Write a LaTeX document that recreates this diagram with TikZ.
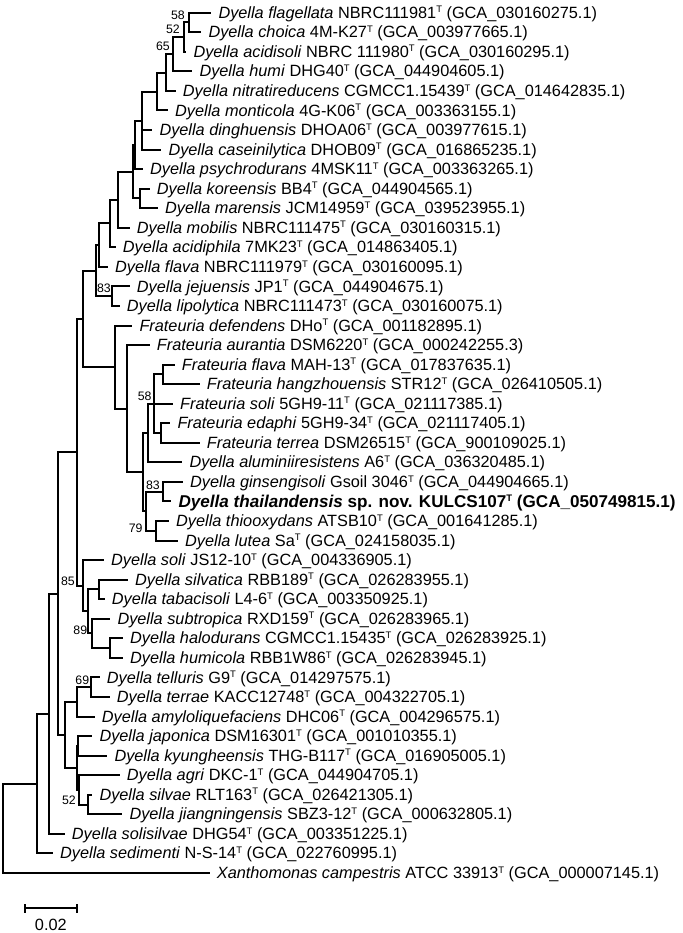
\documentclass[tikz,border=0pt]{standalone}
\usepackage{fontspec}
\setmainfont{Liberation Sans}
\newcommand{\tsup}{\raisebox{5.4pt}{\fontsize{9.5}{9.5}\selectfont T}}
\tikzset{
  br/.style={line width=2pt},
  lab/.style={anchor=base west, inner sep=0pt, font=\fontsize{16.3}{18}\selectfont},
  bs/.style={anchor=east, inner sep=0pt, font=\fontsize{12.3}{14}\selectfont},
}
\newcommand{\lf}[4]{\coordinate (l#1) at (#3-7,#2); \node[lab] (t#1) at (#3,#2+5.6) {#4};}
\begin{document}
\begin{tikzpicture}[x=1pt,y=-1pt]
\useasboundingbox (0,0) rectangle (682,933);
% leaves
\lf{1}{12.7}{218.3}{\textit{Dyella flagellata} NBRC111981\tsup{} (GCA\_030160275.1)}
\lf{2}{32.25}{208.3}{\textit{Dyella choica} 4M-K27\tsup{} (GCA\_003977665.1)}
\lf{3}{51.8}{193.3}{\textit{Dyella acidisoli} NBRC 111980\tsup{} (GCA\_030160295.1)}
\lf{4}{71.35}{199.3}{\textit{Dyella humi} DHG40\tsup{} (GCA\_044904605.1)}
\lf{5}{90.9}{182.7}{\textit{Dyella nitratireducens} CGMCC1.15439\tsup{} (GCA\_014642835.1)}
\lf{6}{110.45}{175}{\textit{Dyella monticola} 4G-K06\tsup{} (GCA\_003363155.1)}
\lf{7}{130}{159.3}{\textit{Dyella dinghuensis} DHOA06\tsup{} (GCA\_003977615.1)}
\lf{8}{149.55}{168.3}{\textit{Dyella caseinilytica} DHOB09\tsup{} (GCA\_016865235.1)}
\lf{9}{169.1}{150}{\textit{Dyella psychrodurans} 4MSK11\tsup{} (GCA\_003363265.1)}
\lf{10}{188.65}{156.7}{\textit{Dyella koreensis} BB4\tsup{} (GCA\_044904565.1)}
\lf{11}{208.2}{165}{\textit{Dyella marensis} JCM14959\tsup{} (GCA\_039523955.1)}
\lf{12}{227.75}{136.7}{\textit{Dyella mobilis} NBRC111475\tsup{} (GCA\_030160315.1)}
\lf{13}{247.3}{122.7}{\textit{Dyella acidiphila} 7MK23\tsup{} (GCA\_014863405.1)}
\lf{14}{266.85}{115}{\textit{Dyella flava} NBRC111979\tsup{} (GCA\_030160095.1)}
\lf{15}{286.4}{136.7}{\textit{Dyella jejuensis} JP1\tsup{} (GCA\_044904675.1)}
\lf{16}{305.95}{126.7}{\textit{Dyella lipolytica} NBRC111473\tsup{} (GCA\_030160075.1)}
\lf{17}{325.5}{139.3}{\textit{Frateuria defendens} DHo\tsup{} (GCA\_001182895.1)}
\lf{18}{345.05}{156.7}{\textit{Frateuria aurantia} DSM6220\tsup{} (GCA\_000242255.3)}
\lf{19}{364.6}{181.7}{\textit{Frateuria flava} MAH-13\tsup{} (GCA\_017837635.1)}
\lf{20}{384.15}{206.7}{\textit{Frateuria hangzhouensis} STR12\tsup{} (GCA\_026410505.1)}
\lf{21}{403.7}{180}{\textit{Frateuria soli} 5GH9-11\tsup{} (GCA\_021117385.1)}
\lf{22}{423.25}{177.3}{\textit{Frateuria edaphi} 5GH9-34\tsup{} (GCA\_021117405.1)}
\lf{23}{442.8}{206.7}{\textit{Frateuria terrea} DSM26515\tsup{} (GCA\_900109025.1)}
\lf{24}{462.35}{189.3}{\textit{Dyella aluminiiresistens} A6\tsup{} (GCA\_036320485.1)}
\lf{25}{481.9}{190}{\textit{Dyella ginsengisoli} Gsoil 3046\tsup{} (GCA\_044904665.1)}
\lf{26}{501.45}{178.3}{\fontsize{17.1}{18}\selectfont\bfseries\textit{Dyella thailandensis} sp. nov. KULCS107\tsup{} (GCA\_050749815.1)}
\lf{27}{521}{176}{\textit{Dyella thiooxydans} ATSB10\tsup{} (GCA\_001641285.1)}
\lf{28}{540.55}{185}{\textit{Dyella lutea} Sa\tsup{} (GCA\_024158035.1)}
\lf{29}{560.1}{111}{\textit{Dyella soli} JS12-10\tsup{} (GCA\_004336905.1)}
\lf{30}{579.65}{135}{\textit{Dyella silvatica} RBB189\tsup{} (GCA\_026283955.1)}
\lf{31}{599.2}{111.7}{\textit{Dyella tabacisoli} L4-6\tsup{} (GCA\_003350925.1)}
\lf{32}{618.75}{117.3}{\textit{Dyella subtropica} RXD159\tsup{} (GCA\_026283965.1)}
\lf{33}{638.3}{130}{\textit{Dyella halodurans} CGMCC1.15435\tsup{} (GCA\_026283925.1)}
\lf{34}{657.85}{130}{\textit{Dyella humicola} RBB1W86\tsup{} (GCA\_026283945.1)}
\lf{35}{677.4}{106.7}{\textit{Dyella telluris} G9\tsup{} (GCA\_014297575.1)}
\lf{36}{696.95}{116.7}{\textit{Dyella terrae} KACC12748\tsup{} (GCA\_004322705.1)}
\lf{37}{716.5}{101.7}{\textit{Dyella amyloliquefaciens} DHC06\tsup{} (GCA\_004296575.1)}
\lf{38}{736.05}{99.3}{\textit{Dyella japonica} DSM16301\tsup{} (GCA\_001010355.1)}
\lf{39}{755.6}{114.3}{\textit{Dyella kyungheensis} THG-B117\tsup{} (GCA\_016905005.1)}
\lf{40}{775.15}{126.7}{\textit{Dyella agri} DKC-1\tsup{} (GCA\_044904705.1)}
\lf{41}{794.7}{99.3}{\textit{Dyella silvae} RLT163\tsup{} (GCA\_026421305.1)}
\lf{42}{814.25}{129.3}{\textit{Dyella jiangningensis} SBZ3-12\tsup{} (GCA\_000632805.1)}
\lf{43}{833.8}{71.7}{\textit{Dyella solisilvae} DHG54\tsup{} (GCA\_003351225.1)}
\lf{44}{853.35}{60}{\textit{Dyella sedimenti} N-S-14\tsup{} (GCA\_022760995.1)}
\lf{45}{872.9}{216.7}{\textit{Xanthomonas campestris} ATCC 33913\tsup{} (GCA\_000007145.1)}
% internal nodes
\coordinate (nA) at (189.3,22.475);
\coordinate (nB) at (184,37.14);
\coordinate (nC) at (173,54.24);
\coordinate (nD) at (166,72.57);
\coordinate (nE) at (156.7,91.51);
\coordinate (nF) at (141.7,120.53);
\coordinate (nG2) at (134.5,144.8);
\coordinate (nKM) at (140,198.4);
\coordinate (nG1) at (133,171.6);
\coordinate (nH) at (118.3,199.7);
\coordinate (nI) at (110,223.5);
\coordinate (nJ) at (99.3,245.2);
\coordinate (nJL) at (111.7,296.2);
\coordinate (nK) at (95.5,270.7);
\coordinate (nFH) at (163.3,374.4);
\coordinate (nET) at (161,433.0);
\coordinate (nQ) at (154,403.7);
\coordinate (nP) at (148.3,433.0);
\coordinate (nS) at (162.7,491.7);
\coordinate (nT) at (155.7,530.8);
\coordinate (nR) at (145.7,511.2);
\coordinate (nO) at (143.3,472.1);
\coordinate (nN) at (126.7,408.6);
\coordinate (nM) at (115,367.0);
\coordinate (nL) at (82.7,318.9);
\coordinate (nST) at (99.3,589.4);
\coordinate (nHH) at (110,648.1);
\coordinate (nY) at (91.7,633.4);
\coordinate (nU) at (88.3,611.4);
\coordinate (nW) at (83.3,585.8);
\coordinate (nX) at (77.3,452.3);
\coordinate (nTT) at (90.7,687.2);
\coordinate (nAA) at (77.3,701.8);
\coordinate (nJK) at (77.8,745.8);
\coordinate (nSJ) at (88.3,804.5);
\coordinate (nACb) at (79,789.8);
\coordinate (nAC) at (76.7,767.8);
\coordinate (nAB) at (65,734.8);
\coordinate (nZ) at (58.3,593.5);
\coordinate (nRJ) at (49.3,713.7);
\coordinate (nRI) at (36.7,783.5);
\coordinate (nRoot) at (2.7,828.2);
% branches
\foreach \p/\c in {nA/l1,nA/l2,nB/nA,nB/l3,nC/nB,nC/l4,nD/nC,nD/l5,nE/nD,nE/l6,
  nF/nE,nF/l7,nF/l8,nG2/nF,nG2/l9,nKM/l10,nKM/l11,nG1/nG2,nG1/nKM,nH/nG1,nH/l12,
  nI/nH,nI/l13,nJ/nI,nJ/l14,nJL/l15,nJL/l16,nK/nJ,nK/nJL,
  nFH/l19,nFH/l20,nET/l22,nET/l23,nQ/nFH,nQ/l21,nQ/nET,nP/nQ,nP/l24,
  nS/l25,nS/l26,nT/l27,nT/l28,nR/nS,nR/nT,nO/nP,nO/nR,nN/l18,nN/nO,nM/l17,nM/nN,
  nL/nK,nL/nM,nST/l30,nST/l31,nHH/l33,nHH/l34,nY/l32,nY/nHH,nU/nST,nU/nY,
  nW/l29,nW/nU,nX/nL,nX/nW,nTT/l35,nTT/l36,nAA/nTT,nAA/l37,nJK/l38,nJK/l39,
  nSJ/l41,nSJ/l42,nACb/l40,nACb/nSJ,nAC/nJK,nAC/nACb,nAB/nAA,nAB/nAC,
  nZ/nX,nZ/nAB,nRJ/nZ,nRJ/l43,nRI/nRJ,nRI/l44,nRoot/nRI,nRoot/l45}
  \draw[br] (\p) |- (\c);
% bootstrap values
\node[bs] (b1) at (185,15) {58};
\node[bs] (b2) at (180,29.3) {52};
\node[bs] (b3) at (170,46.7) {65};
\node[bs] (b4) at (111,288) {83};
\node[bs] (b5) at (151.7,396.7) {58};
\node[bs] (b6) at (160,485) {83};
\node[bs] (b7) at (142.7,528) {79};
\node[bs] (b8) at (75,581.7) {85};
\node[bs] (b9) at (87.3,630) {89};
\node[bs] (b10) at (89.3,680) {69};
\node[bs] (b11) at (76,800.7) {52};
% scale bar
\coordinate (sbL) at (25,908.3);
\coordinate (sbR) at (77,908.3);
\coordinate (sbLt) at (25,904);
\coordinate (sbLb) at (25,912.6);
\coordinate (sbRt) at (77,904);
\coordinate (sbRb) at (77,912.6);
\draw[br] (sbL) -- (sbR);
\draw[br] (sbLt) -- (sbLb);
\draw[br] (sbRt) -- (sbRb);
\node[anchor=base, inner sep=0pt, font=\fontsize{16.3}{18}\selectfont] (sblab) at (50.8,930.5) {0.02};
\end{tikzpicture}
\end{document}
